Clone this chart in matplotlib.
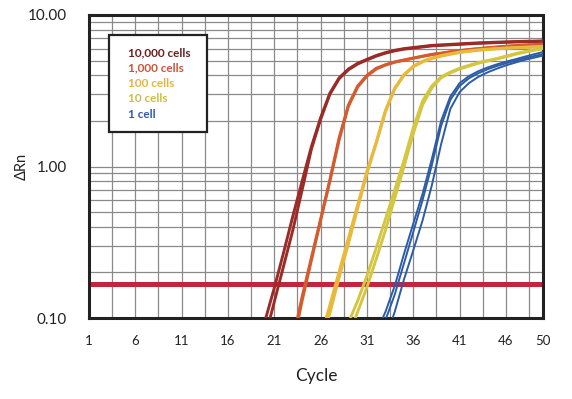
import matplotlib
matplotlib.use("Agg")
import matplotlib.pyplot as plt
from matplotlib.patches import Rectangle
from matplotlib.ticker import FixedLocator, NullFormatter

plt.rcParams['font.family'] = ['Lato', 'DejaVu Sans']

# ---- data ----
group_labels = ["10,000 cells", "1,000 cells", "100 cells", "10 cells", "1 cell"]
line_colors = ["#9a2c28", "#d35b2d", "#e8b93b", "#d4c640", "#2c5ca6"]
text_colors = ["#6d1f22", "#c9553a", "#e5b43f", "#cbbf40", "#2f5ba8"]

# first cycle of each replicate and its dRn values, one per cycle
start_10000 = 20
r10000_a = [0.096, 0.158, 0.27, 0.47, 0.8, 1.35, 2.1, 3.05, 3.85, 4.4, 4.8, 5.1, 5.4, 5.65, 5.85, 6.0,
            6.1, 6.2, 6.3, 6.35, 6.4, 6.45, 6.5, 6.55, 6.58, 6.62, 6.65, 6.68, 6.7, 6.72, 6.75]
r10000_b = [0.074, 0.128, 0.22, 0.38, 0.7, 1.3, 2.05, 3.0, 3.8, 4.35, 4.75, 5.05, 5.35, 5.6, 5.8, 5.95,
            6.05, 6.15, 6.25, 6.3, 6.35, 6.4, 6.45, 6.5, 6.53, 6.57, 6.6, 6.63, 6.65, 6.67, 6.7]

start_1000 = 23
r1000_a = [0.072, 0.138, 0.25, 0.45, 0.82, 1.55, 2.55, 3.4, 4.0, 4.45, 4.7, 4.9, 5.05, 5.2, 5.35, 5.5,
           5.6, 5.72, 5.82, 5.92, 6.0, 6.08, 6.15, 6.22, 6.28, 6.33, 6.37, 6.42]
r1000_b = [0.066, 0.13, 0.24, 0.44, 0.8, 1.5, 2.5, 3.35, 3.95, 4.4, 4.67, 4.88, 5.03, 5.18, 5.33, 5.47,
           5.58, 5.7, 5.8, 5.9, 5.98, 6.06, 6.13, 6.2, 6.26, 6.31, 6.35, 6.4]

start_100 = 26
r100_a = [0.074, 0.122, 0.203, 0.337, 0.56, 0.93, 1.45, 2.35, 3.3, 4.05, 4.6, 4.95, 5.2, 5.4, 5.55,
          5.7, 5.8, 5.88, 5.95, 6.0, 6.05, 6.1, 6.13, 6.17, 6.2]
r100_b = [0.066, 0.108, 0.185, 0.31, 0.53, 0.9, 1.42, 2.3, 3.25, 4.0, 4.55, 4.9, 5.15, 5.35, 5.5,
          5.65, 5.75, 5.85, 5.92, 5.98, 6.03, 6.08, 6.11, 6.15, 6.18]

start_10 = 29
r10_a = [0.093, 0.13, 0.19, 0.29, 0.45, 0.7, 1.1, 1.8, 2.7, 3.4, 3.9, 4.2, 4.45, 4.65, 4.85, 5.0,
         5.15, 5.35, 5.55, 5.72, 5.88, 6.02]
r10_b = [0.075, 0.11, 0.16, 0.245, 0.38, 0.62, 1.0, 1.65, 2.55, 3.3, 3.85, 4.15, 4.4, 4.6, 4.8, 4.97,
         5.13, 5.3, 5.5, 5.68, 5.85, 6.0]

start_1_ab = 32
r1_a = [0.08, 0.11, 0.163, 0.265, 0.42, 0.66, 1.12, 2.0, 2.9, 3.55, 3.95, 4.25, 4.5, 4.72, 4.92,
        5.1, 5.3, 5.5, 5.7]
r1_b = [0.07, 0.097, 0.143, 0.23, 0.37, 0.6, 1.02, 1.85, 2.75, 3.4, 3.82, 4.12, 4.38, 4.6, 4.8,
        4.98, 5.17, 5.35, 5.52]
start_1_c = 33
r1_c = [0.073, 0.11, 0.18, 0.28, 0.44, 0.75, 1.4, 2.4, 3.1, 3.55, 3.9, 4.18, 4.42, 4.65, 4.85,
        5.05, 5.22, 5.4]

threshold = 0.167

x_ticks = [1, 6, 11, 16, 21, 26, 31, 36, 41, 46, 50]
x_minor_grid = [3.5, 8.5, 13.5, 18.5, 23.5, 28.5, 33.5, 38.5, 43.5, 48.5]
y_ticks = [0.1, 1, 10]
y_tick_labels = ["0.10", "1.00", "10.00"]

groups = [
    (0, [(start_10000, r10000_a), (start_10000, r10000_b)], 2.1),
    (1, [(start_1000, r1000_a), (start_1000, r1000_b)], 2.1),
    (2, [(start_100, r100_a), (start_100, r100_b)], 2.1),
    (3, [(start_10, r10_a), (start_10, r10_b)], 2.1),
    (4, [(start_1_ab, r1_a), (start_1_ab, r1_b), (start_1_c, r1_c)], 1.4),
]

# ---- figure ----
fig = plt.figure(figsize=(5.72, 3.99), dpi=100)
ax = fig.add_axes([89 / 572, 1 - 318 / 399, (543 - 89) / 572, (318 - 15) / 399])

ax.set_yscale('log')
ax.set_xlim(1, 50)
ax.set_ylim(0.1, 10)

ax.xaxis.set_major_locator(FixedLocator(x_ticks))
ax.xaxis.set_minor_locator(FixedLocator(x_minor_grid))
ax.xaxis.set_minor_formatter(NullFormatter())
ax.set_xticklabels([str(t) for t in x_ticks])
ax.yaxis.set_major_locator(FixedLocator(y_ticks))
ax.yaxis.set_minor_locator(FixedLocator([m * d for d in (0.1, 1) for m in range(2, 10)]))
ax.yaxis.set_minor_formatter(NullFormatter())
ax.set_yticklabels(y_tick_labels)

ax.grid(True, which='both', color='#8a8a8a', linewidth=0.9)
ax.set_axisbelow(True)
ax.tick_params(which='both', length=0)
ax.tick_params(axis='x', labelsize=9.5, pad=12, colors='#222222')
ax.tick_params(axis='y', labelsize=11, pad=16, colors='#222222')
for s in ax.spines.values():
    s.set_linewidth(2.2)
    s.set_color('#222222')

ax.axhline(threshold, color='#c2263d', linewidth=3.6, zorder=2)

for gi, reps, lw in groups:
    for start, vals in reps:
        cyc = list(range(start, start + len(vals)))
        ax.plot(cyc, vals, color=line_colors[gi], linewidth=lw, zorder=3,
                solid_joinstyle='round', solid_capstyle='round')

# legend box
ax.add_patch(Rectangle((0.044, 0.614), 0.216, 0.32, transform=ax.transAxes,
                       facecolor='white', edgecolor='#222222', linewidth=1.6, zorder=5))
legend_y = [0.874, 0.824, 0.773, 0.723, 0.673]
for lab, col, yy in zip(group_labels, text_colors, legend_y):
    ax.text(0.086, yy, lab, transform=ax.transAxes, color=col, fontsize=8.5,
            fontweight='bold', va='center', ha='left', zorder=6)

fig.text(22 / 572, 1 - 166 / 399, "ΔRn", rotation=90, ha='center', va='center',
         fontsize=10.5, color='#222222')
fig.text(316 / 572, 1 - 376 / 399, "Cycle", ha='center', va='center',
         fontsize=12.5, color='#222222')

fig.savefig("out.png", dpi=100)
